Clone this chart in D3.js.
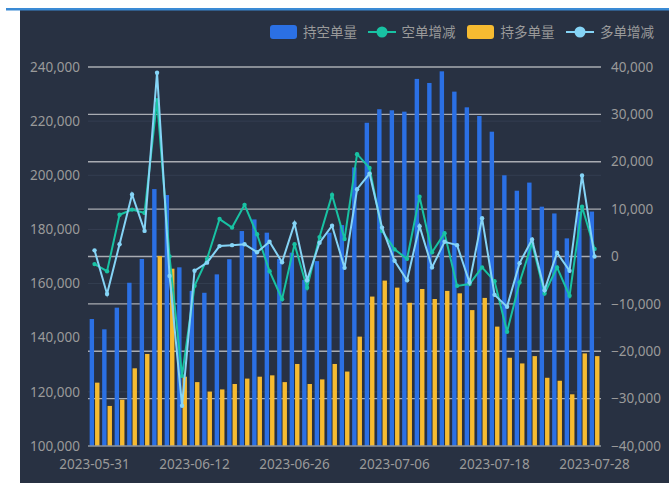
<!DOCTYPE html>
<html><head><meta charset="utf-8">
<script src="https://cdn.jsdelivr.net/npm/d3@7/dist/d3.min.js"></script>
<style>
html,body{margin:0;padding:0;background:#fff;}
svg{display:block;}
text{font-family:"Noto Sans","Noto Sans CJK SC",sans-serif;}
</style></head>
<body>
<svg id="c" width="669" height="483"></svg>
<script>
const dates = ["2023-05-31","2023-06-01","2023-06-02","2023-06-05","2023-06-06","2023-06-07","2023-06-08","2023-06-09","2023-06-12","2023-06-13","2023-06-14","2023-06-15","2023-06-16","2023-06-19","2023-06-20","2023-06-21","2023-06-26","2023-06-27","2023-06-28","2023-06-29","2023-06-30","2023-07-03","2023-07-04","2023-07-05","2023-07-06","2023-07-07","2023-07-10","2023-07-11","2023-07-12","2023-07-13","2023-07-14","2023-07-17","2023-07-18","2023-07-19","2023-07-20","2023-07-21","2023-07-24","2023-07-25","2023-07-26","2023-07-27","2023-07-28"];
const shortVol = [146900,143100,151100,160300,169100,194900,192700,166000,157300,156600,163400,169000,179400,183700,178800,169100,171400,161300,168300,178800,181600,202900,219400,224400,224000,223500,235600,234100,238400,230900,225100,221900,216100,200000,194300,197300,188400,185900,176700,186600,186600];
const shortChg = [-1600,-3100,8800,9900,9200,33000,0,-25200,-6200,-500,7900,6100,10900,4700,-3100,-9000,2600,-6600,4100,13000,3700,21600,18700,5400,1500,-500,12600,900,4900,-6200,-5800,-2300,-5200,-15900,-5500,2800,-7800,-2300,-8300,10500,1600];
const longVol = [123400,114800,117100,128700,134000,170200,165500,125600,123600,120100,120900,122900,124900,125600,126100,123600,130300,122900,124600,130300,127500,140400,155200,161100,158500,152900,158000,154300,157300,156400,150200,154700,144100,132600,130500,133200,125200,124100,119100,134200,133200];
const longChg = [1300,-7900,2600,13100,5400,38800,-4100,-31500,-3000,-1300,2200,2400,2600,900,3100,-1200,7000,-5000,2900,6500,-2400,14200,17500,6100,-900,-5000,6400,-2300,3100,2400,-5500,8100,-8100,-10600,-1400,3600,-7100,800,-3000,17100,0];
const leftTicks = [100000,120000,140000,160000,180000,200000,220000,240000];
const rightTicks = [-40000,-30000,-20000,-10000,0,10000,20000,30000,40000];
const xLabelDates = ["2023-05-31","2023-06-12","2023-06-26","2023-07-06","2023-07-18","2023-07-28"];
const legendNames = ["持空单量","空单增减","持多单量","多单增减"];

const C = {blue:"#2b70e4", teal:"#18c2a3", yellow:"#f6bb31", light:"#85d4f6", bg:"#283142", text:"#9a9a9a"};

const svg = d3.select("#c");
// frame
svg.append("rect").attr("x",20).attr("y",10).attr("width",649).attr("height",473).attr("fill",C.bg);
svg.append("rect").attr("x",6).attr("y",8).attr("width",663).attr("height",2.5).attr("fill","#3a8ad4");

const L = 88, R = 601, T = 67, B = 446;
const x = d3.scaleBand().domain(d3.range(dates.length)).range([L+0.3, R-0.2]).padding(0);
const cx = i => x(i) + x.bandwidth()/2;
const yL = d3.scaleLinear().domain([100000,240000]).range([B,T]);
const yR = d3.scaleLinear().domain([-40000,40000]).range([B,T]);
const fmt = d3.format(",");

// faint left-axis grid
svg.append("g").selectAll("line").data(leftTicks.filter(v=>v>100000 && v<240000)).join("line")
  .attr("x1",L).attr("x2",R).attr("y1",d=>yL(d)).attr("y2",d=>yL(d))
  .attr("stroke","#343e51").attr("stroke-width",1);
// bright right-axis grid
svg.append("g").selectAll("line").data(rightTicks.filter(v=>v>-40000)).join("line")
  .attr("x1",L).attr("x2",R).attr("y1",d=>yR(d)).attr("y2",d=>yR(d))
  .attr("stroke","#a9acb2").attr("stroke-width",1.4);

// bars
const bw = 4.4;
svg.append("g").selectAll("rect").data(shortVol).join("rect")
  .attr("x",(d,i)=>cx(i)-bw-0.5).attr("width",bw)
  .attr("y",d=>yL(d)).attr("height",d=>B-yL(d)).attr("fill",C.blue);
svg.append("g").selectAll("rect").data(longVol).join("rect")
  .attr("x",(d,i)=>cx(i)+0.5).attr("width",bw)
  .attr("y",d=>yL(d)).attr("height",d=>B-yL(d)).attr("fill",C.yellow);

// bottom axis line
svg.append("line").attr("x1",L).attr("x2",R).attr("y1",B).attr("y2",B).attr("stroke","#8e949e").attr("stroke-width",1.5);

// lines
function drawLine(data,color){
  const line = d3.line().x((d,i)=>cx(i)).y(d=>yR(d));
  svg.append("path").datum(data).attr("d",line).attr("fill","none").attr("stroke",color).attr("stroke-width",2);
  svg.append("g").selectAll("circle").data(data).join("circle")
    .attr("cx",(d,i)=>cx(i)).attr("cy",d=>yR(d)).attr("r",2.2).attr("fill",color);
}
drawLine(shortChg,C.teal);
drawLine(longChg,C.light);

// axis labels
svg.append("g").selectAll("text").data(leftTicks).join("text")
  .attr("x",80).attr("y",d=>yL(d)).attr("dy","0.35em").attr("text-anchor","end")
  .attr("font-size",13.5).attr("fill",C.text).text(d=>fmt(d));
svg.append("g").selectAll("text").data(rightTicks).join("text")
  .attr("x",611).attr("y",d=>yR(d)).attr("dy","0.35em").attr("text-anchor","start")
  .attr("font-size",13.5).attr("fill",C.text).text(d=>fmt(d));
svg.append("g").selectAll("text").data(xLabelDates).join("text")
  .attr("x",d=>cx(dates.indexOf(d))).attr("y",469).attr("text-anchor","middle")
  .attr("font-size",13.5).attr("fill",C.text).text(d=>d);

// legend
const lg = svg.append("g").attr("font-size",13.5);
const items = [
  {n:legendNames[0],type:"rect",c:C.blue,x:270,tx:303},
  {n:legendNames[1],type:"line",c:C.teal,x:368,tx:401.5},
  {n:legendNames[2],type:"rect",c:C.yellow,x:467,tx:500.5},
  {n:legendNames[3],type:"line",c:C.light,x:566,tx:600}
];
const ly = 32;
items.forEach(it=>{
  if(it.type==="rect"){
    lg.append("rect").attr("x",it.x).attr("y",ly-7).attr("width",27).attr("height",14).attr("rx",3).attr("fill",it.c);
  } else {
    lg.append("line").attr("x1",it.x).attr("x2",it.x+28).attr("y1",ly).attr("y2",ly).attr("stroke",it.c).attr("stroke-width",2);
    lg.append("circle").attr("cx",it.x+14).attr("cy",ly).attr("r",5.5).attr("fill",it.c);
  }
  lg.append("text").attr("x",it.tx).attr("y",ly).attr("dy","0.35em").attr("fill",C.text)
    .attr("font-family","'Noto Sans CJK SC',sans-serif").text(it.n);
});
</script>
</body></html>
